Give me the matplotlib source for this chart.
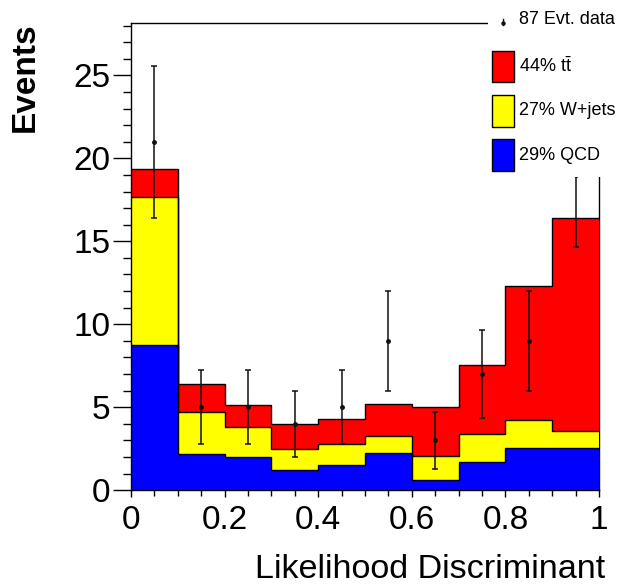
import numpy as np
import matplotlib
matplotlib.use("Agg")
import matplotlib.pyplot as plt
from matplotlib.patches import Rectangle
from matplotlib.ticker import MultipleLocator

plt.rcParams['font.family'] = ['Liberation Sans', 'DejaVu Sans']
plt.rcParams['mathtext.fontset'] = 'custom'
plt.rcParams['mathtext.rm'] = 'Liberation Sans'
plt.rcParams['mathtext.it'] = 'Liberation Sans'

# Likelihood discriminant bins
edges = np.linspace(0.0, 1.0, 11)

# Stacked expectations per bin
qcd = [8.75, 2.17, 2.0, 1.22, 1.5, 2.23, 0.6, 1.7, 2.53, 2.53]
wjets = [8.92, 2.53, 1.8, 1.28, 1.27, 1.04, 1.43, 1.67, 1.69, 1.04]
ttbar = [1.67, 1.7, 1.35, 1.5, 1.53, 1.95, 2.99, 4.16, 8.08, 12.83]

# Observed events per bin
data = [21, 5, 5, 4, 5, 9, 3, 7, 9, 19]

xtick_vals = [0, 0.2, 0.4, 0.6, 0.8, 1.0]
xtick_labels = ['0', '0.2', '0.4', '0.6', '0.8', '1']
ytick_vals = [0, 5, 10, 15, 20, 25]
ytick_labels = ['0', '5', '10', '15', '20', '25']

legend_labels = ["87 Evt. data", r"44% $\mathrm{t\bar{t}}$", "27% W+jets", "29% QCD"]

qcd = np.array(qcd)
w_top = qcd + np.array(wjets)
tt_top = w_top + np.array(ttbar)
data = np.array(data, dtype=float)
centers = 0.5 * (edges[:-1] + edges[1:])

W, H = 621, 584
fig = plt.figure(figsize=(W / 100, H / 100), dpi=100)
ax = fig.add_axes([131 / W, 1 - 490.1 / H, 468 / W, (490.1 - 23.3) / H])

# stacked histogram fills, then black outlines on top
for top, col in [(tt_top, '#ff0000'), (w_top, '#ffff00'), (qcd, '#0000ff')]:
    ax.stairs(top, edges, baseline=0, fill=True, color=col, lw=0, zorder=1)
for top in [tt_top, w_top, qcd]:
    ax.stairs(top, edges, baseline=None, fill=False, color='black', lw=1.0, zorder=1.5)

ax.errorbar(centers, data, yerr=np.sqrt(data), fmt='o', ms=2.5, color='#111111',
            elinewidth=1.1, capsize=2.3, capthick=1.1, zorder=3)

ax.set_xlim(0, 1)
ax.set_ylim(0, 28.14)
for s in ax.spines.values():
    s.set_linewidth(1.0)
ax.spines['right'].set_zorder(0.5)

ax.set_xticks(xtick_vals)
ax.set_xticklabels(xtick_labels)
ax.set_yticks(ytick_vals)
ax.set_yticklabels(ytick_labels)
ax.xaxis.set_minor_locator(MultipleLocator(0.05))
ax.yaxis.set_minor_locator(MultipleLocator(1))
ax.tick_params(axis='y', which='major', length=13, width=1.0, pad=2, labelsize=24, direction='out')
ax.tick_params(axis='y', which='minor', length=6, width=1.0, direction='out')
ax.tick_params(axis='x', which='major', length=5, width=1.0, pad=6, labelsize=24, direction='out')
ax.tick_params(axis='x', which='minor', length=4, width=1.0, direction='out')

fig.text(25 / W, 1 - 77 / H, 'Events', rotation=90, fontsize=24, fontweight='bold',
         ha='center', va='center')
fig.text(605 / W, 1 - 570 / H, 'Likelihood Discriminant', fontsize=24.6,
         ha='right', va='center')

# legend panel (white box covering the upper right corner)
leg = fig.add_axes([488 / W, 1 - 177 / H, 133 / W, 177 / H])
leg.set_xlim(0, 133)
leg.set_ylim(177, 0)
leg.set_xticks([])
leg.set_yticks([])
for s in leg.spines.values():
    s.set_visible(False)
leg.set_facecolor('white')

leg.plot([15, 15], [19, 25], color='#111111', lw=1.0)
leg.plot([15], [22.5], 'o', ms=2.2, color='#111111')
leg.text(31, 20, legend_labels[0], fontsize=13, va='center', ha='left')
for (y0, y1), col, lab in zip([(50.7, 82.3), (95, 126.7), (139.3, 170.7)],
                              ['#ff0000', '#ffff00', '#0000ff'], legend_labels[1:]):
    leg.add_patch(Rectangle((3.7, y0), 22.6, y1 - y0, facecolor=col,
                            edgecolor='black', lw=1.0))
    leg.text(31, (y0 + y1) / 2, lab, fontsize=13, va='center', ha='left')

fig.savefig('out.png', dpi=100)
